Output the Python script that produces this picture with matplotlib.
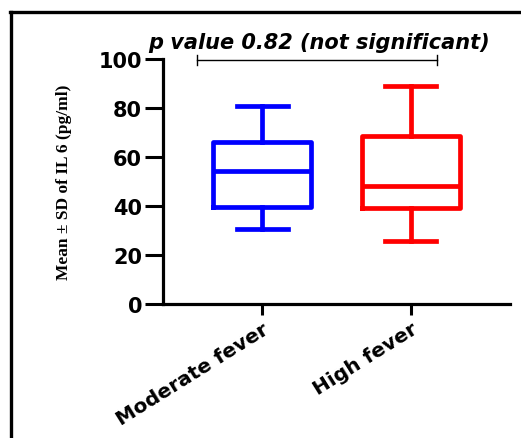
import matplotlib
matplotlib.use("Agg")
import matplotlib.pyplot as plt
from matplotlib.lines import Line2D

categories = ["Moderate fever", "High fever"]
whisker_low = [30.6, 25.8]
q1 = [39.5, 39.1]
median = [54.2, 48.3]
q3 = [66.0, 68.4]
whisker_high = [80.9, 89.1]
colors = ["#0000ff", "#ff0000"]
yticks = [0, 20, 40, 60, 80, 100]
annotation = "p value 0.82 (not significant)"

fig = plt.figure(figsize=(5.21, 4.39), dpi=100)
ax = fig.add_axes([163/521, 1-305/439, (510-163)/521, (305-60)/439])

stats = []
for i, c in enumerate(categories):
    stats.append(dict(label=c, whislo=whisker_low[i], q1=q1[i], med=median[i],
                      q3=q3[i], whishi=whisker_high[i], fliers=[]))

positions = list(range(len(categories)))
for i, s in enumerate(stats):
    col = colors[i]
    ax.bxp([s], positions=[positions[i]], widths=0.66, capwidths=0.34,
           showfliers=False, patch_artist=False,
           boxprops=dict(color=col, linewidth=3.4),
           whiskerprops=dict(color=col, linewidth=3.4),
           capprops=dict(color=col, linewidth=3.4),
           medianprops=dict(color=col, linewidth=3.4),
           manage_ticks=False)

ax.set_xlim(-0.67, 1.67)
ax.set_ylim(0, 100)
ax.set_xticks(positions)
ax.set_xticklabels(categories, rotation=32, ha="right", va="top",
                   rotation_mode="anchor", fontsize=14.5, fontweight="bold",
                   family="DejaVu Sans")
ax.set_yticks(yticks)
ax.set_yticklabels([str(t) for t in yticks], fontsize=15, fontweight="bold",
                   family="DejaVu Sans")
ax.tick_params(axis="y", length=13, width=2.2, pad=2)
ax.tick_params(axis="x", length=8, width=2.2, pad=3)
for sp in ["top", "right"]:
    ax.spines[sp].set_visible(False)
for sp in ["left", "bottom"]:
    ax.spines[sp].set_linewidth(2.3)

ax.set_ylabel("Mean ± SD of IL 6 (pg/ml)", family="Liberation Serif",
              fontweight="bold", fontsize=12.5, labelpad=19)

# significance bracket
y_br = 99.6
ax.plot([-0.44, 1.18], [y_br, y_br], color="black", lw=1.0, clip_on=False)
for xx in [-0.44, 1.18]:
    ax.plot([xx, xx], [y_br - 2.2, y_br + 2.2], color="black", lw=1.0, clip_on=False)
ax.text(0.38, 104.5, annotation, ha="center", va="baseline", fontsize=15,
        fontweight="bold", fontstyle="italic", family="DejaVu Sans", clip_on=False)

# outer frame
fig.add_artist(Line2D([11/521, 11/521], [0, 1-13/439], color="black", lw=2.4,
                      transform=fig.transFigure))
fig.add_artist(Line2D([10/521, 1], [1-13/439, 1-13/439], color="black", lw=2.4,
                      transform=fig.transFigure))

fig.savefig("out.png", dpi=100)
